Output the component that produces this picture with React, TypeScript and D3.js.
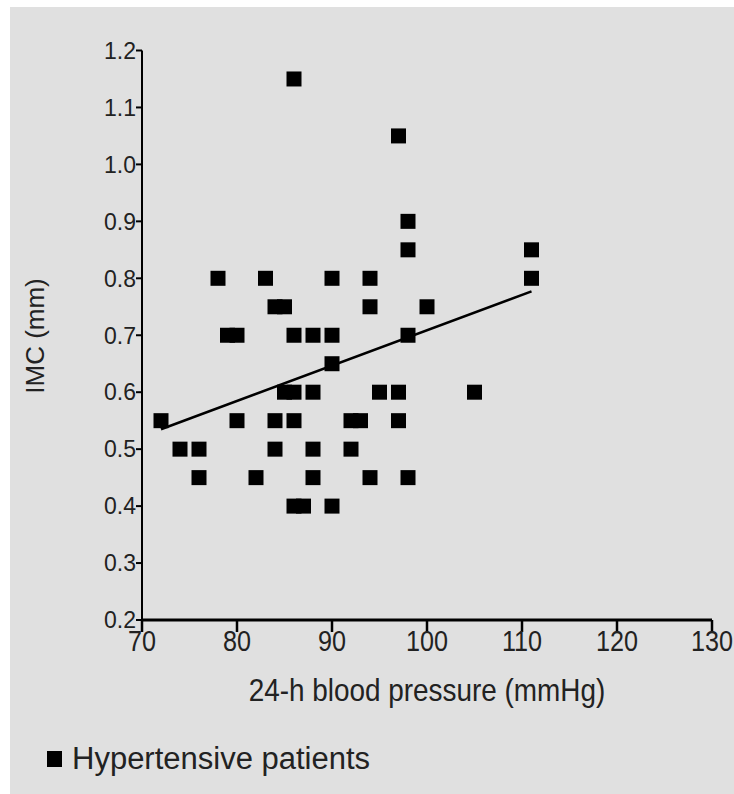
import React from "react";
import * as d3 from "d3";

const bpValues = [86, 97, 98, 98, 111, 78, 83, 90, 94, 111, 84, 85, 94, 100, 79, 80, 86, 88, 90, 98, 90, 85, 86, 88, 95, 97, 105, 72, 80, 84, 86, 92, 93, 97, 74, 76, 84, 88, 92, 76, 82, 88, 94, 98, 86, 87, 90];
const imcValues = [1.15, 1.05, 0.9, 0.85, 0.85, 0.8, 0.8, 0.8, 0.8, 0.8, 0.75, 0.75, 0.75, 0.75, 0.7, 0.7, 0.7, 0.7, 0.7, 0.7, 0.65, 0.6, 0.6, 0.6, 0.6, 0.6, 0.6, 0.55, 0.55, 0.55, 0.55, 0.55, 0.55, 0.55, 0.5, 0.5, 0.5, 0.5, 0.5, 0.45, 0.45, 0.45, 0.45, 0.45, 0.4, 0.4, 0.4];
const fitX = [72, 111];
const fitY = [0.535, 0.777];
const xTicks = [70, 80, 90, 100, 110, 120, 130];
const yTicks = [0.2, 0.3, 0.4, 0.5, 0.6, 0.7, 0.8, 0.9, 1.0, 1.1, 1.2];
const xTitle = "24-h blood pressure (mmHg)";
const yTitle = "IMC (mm)";
const legendLabel = "Hypertensive patients";

export default function App() {
  const W = 734, H = 794;
  const x = d3.scaleLinear().domain([70, 130]).range([142, 712]);
  const y = d3.scaleLinear().domain([0.2, 1.2]).range([620, 50.5]);
  const fmt = d3.format(".1f");
  const sq = 15;
  const line = d3.line<number>().x((d, i) => x(fitX[i])).y((d, i) => y(fitY[i]));
  const font = "'Liberation Sans', Arial, sans-serif";
  return (
    <svg width={W} height={H} style={{ position: "absolute", left: 0, top: 0 }} fontFamily={font}>
      <rect x={0} y={0} width={W} height={H} fill="#ffffff" />
      <rect x={10} y={7} width={W - 10} height={H - 7} fill="#e0e0e0" />
      {/* y axis */}
      <line x1={x(70)} x2={x(70)} y1={y(1.2)} y2={y(0.2)} stroke="#000" strokeWidth={2} />
      {yTicks.map((t) => (
        <g key={"yt" + t}>
          <line x1={x(70) - 6} x2={x(70)} y1={y(t)} y2={y(t)} stroke="#000" strokeWidth={2} />
          <text x={x(70) - 6} y={y(t)} dy="0.36em" textAnchor="end" fontSize={23} fill="#222">{fmt(t)}</text>
        </g>
      ))}
      {/* x axis */}
      <line x1={x(70)} x2={x(130)} y1={y(0.2)} y2={y(0.2)} stroke="#000" strokeWidth={3} />
      {xTicks.map((t) => (
        <g key={"xt" + t}>
          <line x1={x(t)} x2={x(t)} y1={y(0.2)} y2={y(0.2) + 12} stroke="#000" strokeWidth={2.5} />
          <text transform={`translate(${x(t)}, ${y(0.2) + 31}) scale(0.84, 1)`} textAnchor="middle" fontSize={30} fill="#222">{t}</text>
        </g>
      ))}
      <text transform={`translate(${(x(70) + x(130)) / 2}, 701) scale(0.9, 1)`} textAnchor="middle" fontSize={31} fill="#222">{xTitle}</text>
      <text transform={`translate(44, 336) rotate(-90)`} textAnchor="middle" fontSize={26} fill="#222">{yTitle}</text>
      {/* regression line */}
      <path d={line(fitX) || ""} fill="none" stroke="#000" strokeWidth={2.5} />
      {/* points */}
      {bpValues.map((b, i) => (
        <rect key={"p" + i} x={x(b) - sq / 2} y={y(imcValues[i]) - sq / 2} width={sq} height={sq} fill="#000" />
      ))}
      {/* legend */}
      <rect x={47} y={751} width={15} height={16} fill="#000" />
      <text transform="translate(72, 769)" fontSize={31} fill="#222">{legendLabel}</text>
    </svg>
  );
}
